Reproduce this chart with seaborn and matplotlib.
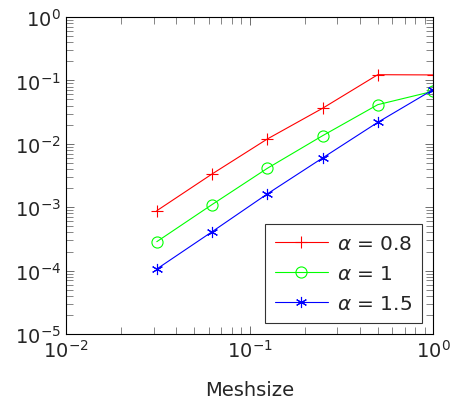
import numpy as np
import pandas as pd
import seaborn as sns
import matplotlib
matplotlib.use("Agg")
import matplotlib.pyplot as plt

meshsize = [1/32, 1/16, 1/8, 1/4, 1/2, 1.0]
err_08 = [8.8e-4, 3.34e-3, 1.19e-2, 3.63e-2, 1.23e-1, 1.22e-1]
err_10 = [2.86e-4, 1.10e-3, 4.1e-3, 1.34e-2, 4.14e-2, 6.73e-2]
err_15 = [1.06e-4, 4.1e-4, 1.62e-3, 5.97e-3, 2.18e-2, 7.13e-2]
labels = [r"$\alpha$ = 0.8", r"$\alpha$ = 1", r"$\alpha$ = 1.5"]

sns.set_style("ticks")
plt.rcParams["font.family"] = ["DejaVu Sans"]
plt.rcParams["mathtext.fontset"] = "dejavusans"

fig = plt.figure(figsize=(4.5, 4.02), dpi=100)
ax = fig.add_axes([66/450, 67/402, (433-66)/450, (335-18)/402])

series = [
    (err_08, "#ff0000", "+", 8, labels[0]),
    (err_10, "#00ff00", "o", 8, labels[1]),
    (err_15, "#0000ff", (6, 2, 0), 8, labels[2]),
]
for vals, col, mk, ms, lab in series:
    df = pd.DataFrame({"x": meshsize, "y": vals})
    sns.lineplot(data=df, x="x", y="y", ax=ax, color=col, marker=mk,
                 markersize=ms, markerfacecolor="none", markeredgecolor=col,
                 markeredgewidth=0.8, linewidth=0.8, label=lab)

ax.set_xscale("log")
ax.set_yscale("log")
ax.set_xlim(1e-2, 1e0)
ax.set_ylim(1e-5, 1e0)
ax.set_xticks([1e-2, 1e-1, 1e0])
ax.set_yticks([1e-5, 1e-4, 1e-3, 1e-2, 1e-1, 1e0])
ax.tick_params(which="both", direction="in", top=True, right=True,
               labelsize=14, color="#555555")
ax.tick_params(which="major", length=6, width=0.6)
ax.tick_params(which="minor", length=5, width=0.5)
for s in ax.spines.values():
    s.set_linewidth(0.8)
    s.set_color("black")
ax.set_xlabel("Meshsize", fontsize=14, labelpad=14)
ax.set_ylabel("")

leg = ax.legend(loc="lower right", fontsize=14.5, frameon=True, fancybox=False,
                handlelength=2.6, borderaxespad=0.55, labelspacing=0.55,
                handletextpad=0.45, borderpad=0.5)
leg.get_frame().set_edgecolor("black")
leg.get_frame().set_linewidth(0.8)

fig.savefig("out.png", dpi=100)
